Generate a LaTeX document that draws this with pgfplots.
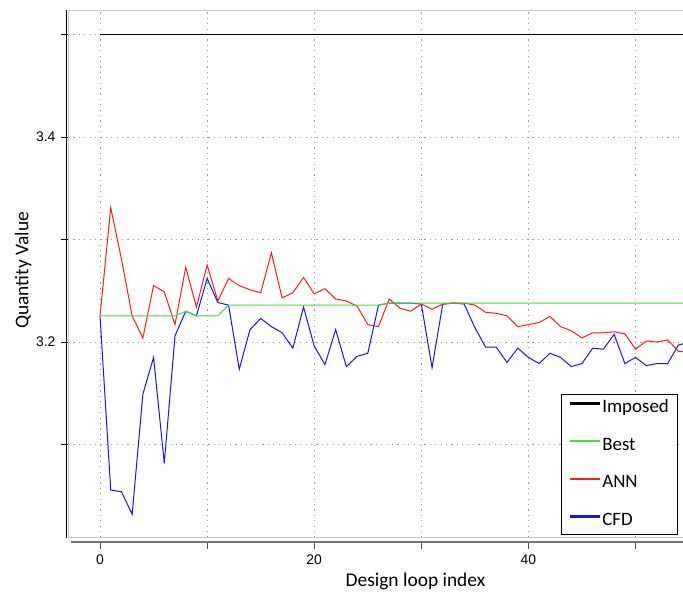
\documentclass[border=0pt]{standalone}
\usepackage{pgfplots}
\pgfplotsset{compat=1.18}
\usepackage{fontspec}
\setmainfont{Carlito}
\newfontfamily\tickfont{Liberation Sans}
\definecolor{bestgreen}{RGB}{60,225,60}
\definecolor{annred}{RGB}{255,25,25}
\definecolor{cfdblue}{RGB}{20,20,245}
\begin{document}
\begin{tikzpicture}
\begin{axis}[
  scale only axis, width=615bp, height=527bp,
  xmin=-2.99, xmax=54.43, ymin=3.0093, ymax=3.5234,
  axis line style={draw=black!22, line width=0.8bp},
  xtick={0,10,20,30,40,50}, xticklabels={0,,20,,40,},
  ytick={3.1,3.2,3.3,3.4,3.5}, yticklabels={,3.2,,3.4,},
  xtick pos=bottom, ytick pos=left,
  tick align=outside, major tick length=7bp,
  ytick style={draw=black, line width=0.8bp},
  xtick style={draw=black!70, line width=1bp, yshift=-4.5bp},
  grid=major,
  major grid style={draw=black!40, dash pattern=on 1.2bp off 4.2bp, line width=0.8bp},
  ticklabel style={font=\tickfont\fontsize{14}{16}\selectfont},
  xticklabel style={yshift=-7bp},
  yticklabel style={xshift=-2bp},
  xlabel={Design loop index},
  ylabel={Quantity Value},
  label style={font=\fontsize{19.5}{22}\selectfont},
  xlabel style={at={(axis description cs:0.565,-0.083)}, anchor=center},
  ylabel style={at={(axis description cs:-0.073,0.507)}, anchor=center},
  reverse legend,
  legend style={at={(axis description cs:0.992,0.004)}, anchor=south east,
    draw=black, line width=1.4bp, fill=white,
    font=\fontsize{19}{22}\selectfont,
    inner xsep=7bp, inner ysep=5bp, row sep=20.7bp,
    nodes={inner xsep=1.5bp, inner ysep=0pt, text height=13bp, text depth=4bp},
    cells={anchor=west}},
  legend image code/.code={\draw[#1, line width=2.4bp] (0bp,4.5bp) -- (30bp,4.5bp);},
]
% CFD
\addplot[cfdblue, line width=1bp] table {
0 3.2255
1 3.0556
2 3.054
3 3.032
4 3.149
5 3.185
6 3.0817
7 3.206
8 3.230
9 3.2255
10 3.262
11 3.2385
12 3.236
13 3.1735
14 3.212
15 3.223
16 3.215
17 3.209
18 3.194
19 3.234
20 3.196
21 3.178
22 3.212
23 3.176
24 3.186
25 3.189
26 3.236
27 3.238
28 3.238
29 3.238
30 3.237
31 3.175
32 3.237
33 3.238
34 3.237
35 3.214
36 3.195
37 3.195
38 3.180
39 3.194
40 3.185
41 3.179
42 3.189
43 3.185
44 3.176
45 3.179
46 3.194
47 3.193
48 3.2075
49 3.179
50 3.185
51 3.177
52 3.179
53 3.179
54 3.197
55 3.200
};
\addlegendentry{CFD}
% ANN
\addplot[annred, line width=1bp] table {
0 3.2255
1 3.331
2 3.281
3 3.2255
4 3.204
5 3.255
6 3.249
7 3.217
8 3.273
9 3.234
10 3.275
11 3.240
12 3.262
13 3.255
14 3.251
15 3.248
16 3.287
17 3.243
18 3.248
19 3.263
20 3.247
21 3.252
22 3.242
23 3.240
24 3.235
25 3.217
26 3.215
27 3.242
28 3.233
29 3.230
30 3.237
31 3.232
32 3.237
33 3.238
34 3.238
35 3.236
36 3.229
37 3.228
38 3.2255
39 3.215
40 3.217
41 3.219
42 3.225
43 3.215
44 3.211
45 3.204
46 3.209
47 3.209
48 3.210
49 3.208
50 3.193
51 3.201
52 3.200
53 3.202
54 3.191
55 3.190
};
\addlegendentry{ANN}
% Best
\addplot[bestgreen, line width=1bp] table {
0 3.2255
7 3.2255
8 3.230
9 3.2255
11 3.2255
12 3.236
26 3.236
27 3.238
55 3.238
};
\addlegendentry{Best}
% Imposed
\addplot[black, line width=1bp] table {
0 3.5
55 3.5
};
\addlegendentry{Imposed}
\end{axis}
\draw[black, line width=1.4bp] (-1.6bp,-0.5bp) -- (-1.6bp,527bp);
\draw[black!55, line width=2bp] (3bp,-4.5bp) -- (615bp,-4.5bp);
\pgfresetboundingbox
\path[use as bounding box] (-68bp,-56.5bp) rectangle (615bp,537.5bp);
\end{tikzpicture}
\end{document}
